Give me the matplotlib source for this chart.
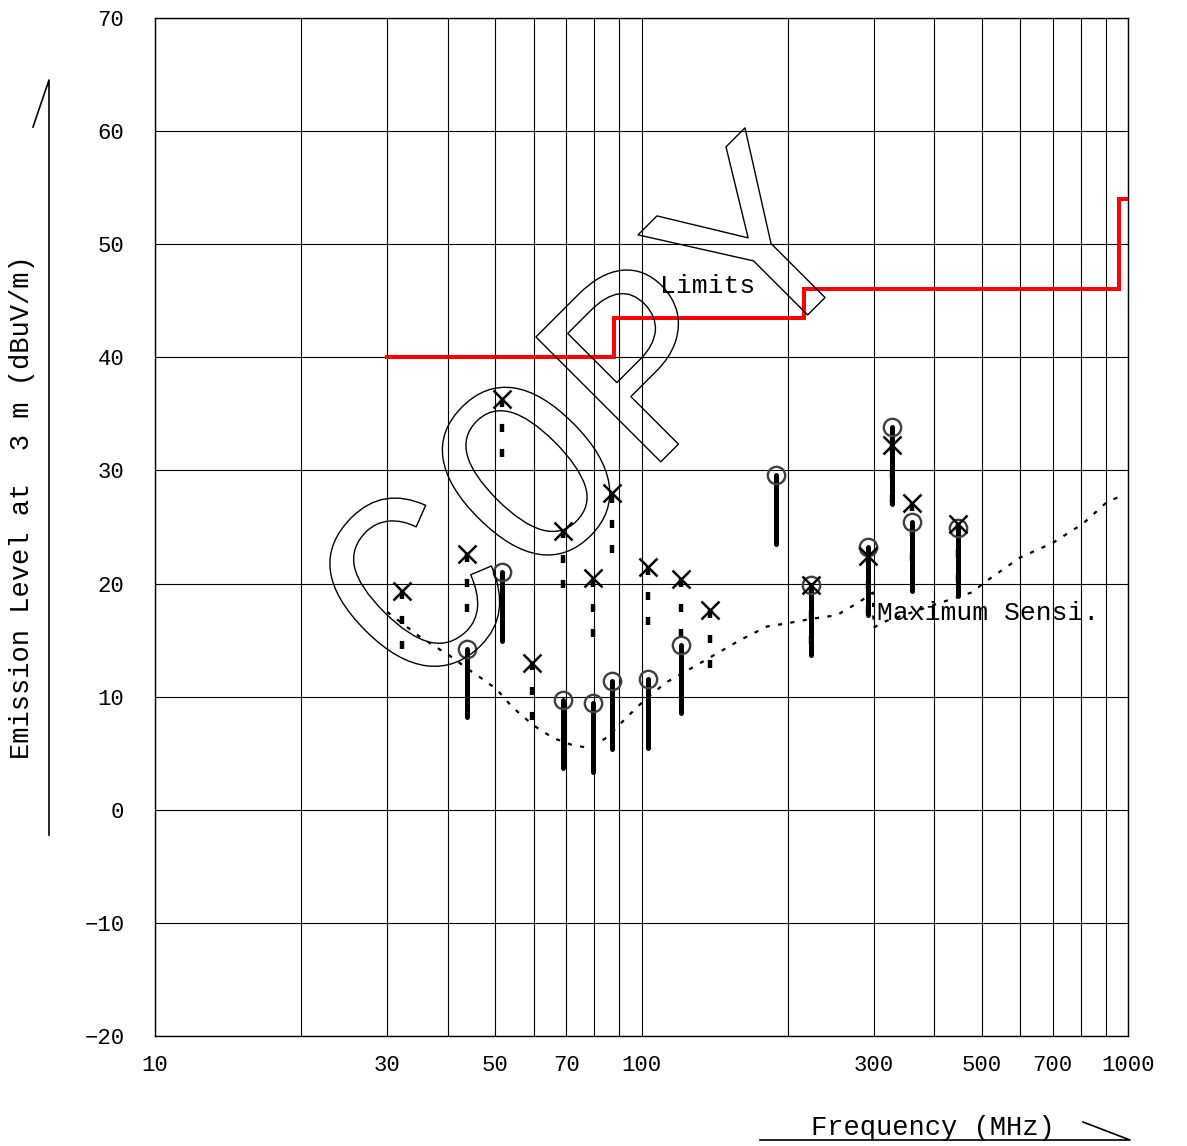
import matplotlib
matplotlib.use('Agg')
import matplotlib.pyplot as plt
import matplotlib.patheffects as pe
from matplotlib.lines import Line2D

plt.rcParams['font.family'] = ['Liberation Mono', 'DejaVu Sans Mono']
plt.rcParams['lines.scale_dashes'] = False
plt.rcParams['axes.unicode_minus'] = True

# limit line (step)
limit_freq = [30, 88, 88, 216, 216, 960, 960, 1000]
limit_level = [40, 40, 43.5, 43.5, 46, 46, 54, 54]

# max sensitivity curve
sens_freq = [30, 35, 40.4, 44.8, 48.1, 50.5, 54.2, 59.8, 65.8, 72.3, 78.4, 84.9, 93.4,
             102.6, 112.8, 127.6, 159.4, 181, 200, 225, 252, 281, 299, 300, 314,
             425, 480, 503, 600, 701, 808, 905, 963]
sens_level = [17.5, 15.3, 13.6, 12.2, 11.3, 10.6, 9.1, 7.5, 6.35, 5.7, 5.46, 6.4, 8.2,
              9.9, 11.3, 12.6, 15.0, 16.2, 16.5, 16.9, 17.2, 18.4, 19.2, 16.1, 16.6,
              18.5, 19.25, 20.0, 22.3, 23.6, 25.3, 27.2, 27.7]

# X markers (quasi-peak) with dashed drop lines
qp_freq = [32.2, 43.8, 51.6, 59.6, 68.9, 79.4, 87.1, 103.3, 120.3, 138.3, 223, 292, 327, 360, 448]
qp_level = [19.35, 22.6, 36.3, 13.0, 24.65, 20.45, 28.0, 21.5, 20.4, 17.65, 19.85, 22.4, 32.25, 27.1, 25.25]
qp_low = [14.2, 17.5, 31.2, 7.9, 19.6, 15.3, 22.7, 16.3, 15.3, 12.5, 14.7, 17.3, 27.1, 22.0, 20.1]

# circle markers (average) with solid drop lines
av_freq = [43.8, 51.6, 68.9, 79.4, 87.1, 103.3, 120.3, 188.7, 223, 292, 327, 360, 448]
av_level = [14.25, 21.0, 9.7, 9.4, 11.4, 11.55, 14.6, 29.6, 19.85, 23.25, 33.8, 25.45, 24.95]
av_low = [8.2, 14.9, 3.7, 3.3, 5.35, 5.5, 8.6, 23.5, 13.7, 17.2, 27.0, 19.35, 18.9]

x_ticks = [10, 30, 50, 70, 100, 300, 500, 700, 1000]
y_ticks = [-20, -10, 0, 10, 20, 30, 40, 50, 60, 70]

W, H = 1187, 1146
fig = plt.figure(figsize=(W / 100, H / 100), dpi=100)
ax = fig.add_axes([155 / W, 1 - 1036 / H, 973 / W, 1018 / H])

ax.set_xscale('log')
ax.set_xlim(10, 1000)
ax.set_ylim(-20, 70)

minor = [m * 10 ** d for d in (1, 2) for m in range(1, 10)] + [1000]
ax.set_xticks(minor, minor=True)
ax.set_xticklabels([], minor=True)
ax.set_xticks(x_ticks)
ax.set_xticklabels([str(t) for t in x_ticks])
ax.set_yticks(y_ticks)
ax.set_yticklabels([str(t).replace('-', '\u2212') for t in y_ticks])
ax.tick_params(which='both', length=0)
ax.tick_params(axis='x', pad=14, labelsize=16)
ax.tick_params(axis='y', pad=22, labelsize=16)
ax.grid(True, which='both', axis='x', color='black', lw=0.8)
ax.grid(True, which='major', axis='y', color='black', lw=0.8)
for s in ax.spines.values():
    s.set_linewidth(1.0)
    s.set_color('black')

# limit
ax.plot(limit_freq, limit_level, color='red', lw=2.9, solid_joinstyle='miter', zorder=3)

# sensitivity
ax.plot(sens_freq, sens_level, color='black', lw=1.6, dashes=(3, 6), zorder=3)

# drop lines
ax.vlines(qp_freq, qp_low, qp_level, colors='black', lw=3.2,
          linestyles=[(0, (5.8, 12.2))], zorder=4)
ax.vlines(av_freq, av_low, av_level, colors='black', lw=3.6, zorder=4,
          capstyle='round')

ax.plot(av_freq, av_level, 'o', ms=12.5, mfc='none', mec='#404040', mew=1.7, zorder=5)
ax.plot(qp_freq, qp_level, 'x', ms=13, mec='black', mew=1.8, zorder=5)

ax.text(109, 46.3, 'Limits', fontsize=19, ha='left', va='center', zorder=6)
ax.text(305, 17.4, 'Maximum Sensi.', fontsize=19, ha='left', va='center', zorder=6)

# axis labels with their arrow strokes
fig.text(22 / W, 1 - 507 / H, 'Emission Level at  3 m (dBuV/m)', rotation=90,
         fontsize=19.5, ha='center', va='center')
fig.text(933 / W, 1 - 1128 / H, 'Frequency (MHz)', fontsize=19.5,
         ha='center', va='center')
fig.add_artist(Line2D([49 / W, 49 / W, 33 / W], [1 - 835 / H, 1 - 80 / H, 1 - 127 / H],
                      color='black', lw=1.2, transform=fig.transFigure))
fig.add_artist(Line2D([760 / W, 1130 / W, 1083 / W], [1 - 1140 / H, 1 - 1140 / H, 1 - 1122 / H],
                      color='black', lw=1.2, transform=fig.transFigure))

# COPY watermark (outlined)
fig.text(597 / W, 1 - 428 / H, 'COPY', fontsize=193, rotation=45, rotation_mode='anchor',
         ha='center', va='center', color='none', zorder=2,
         path_effects=[pe.withStroke(linewidth=1.0, foreground='black')])

fig.savefig('out.png', dpi=100)
